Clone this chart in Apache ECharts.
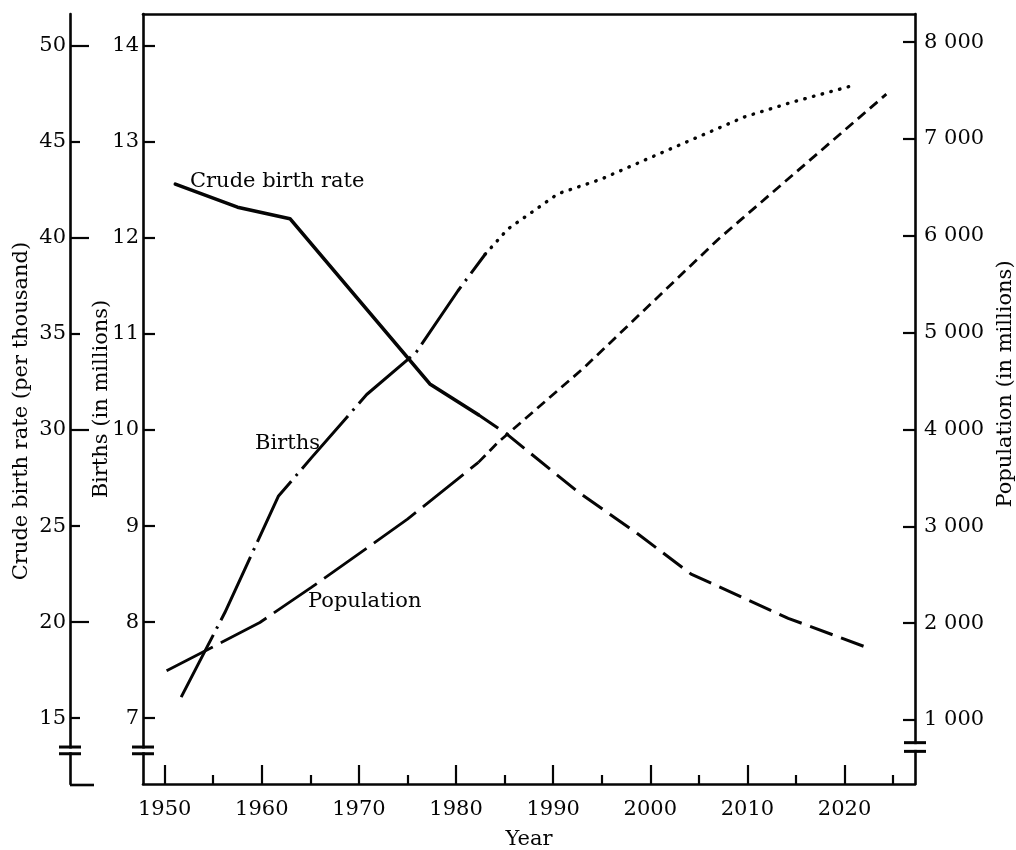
<!DOCTYPE html>
<html>
<head>
<meta charset="utf-8">
<script src="https://cdn.jsdelivr.net/npm/echarts@6/dist/echarts.min.js"></script>
<style>
html,body{margin:0;padding:0;background:#fff;}
#chart{width:1016px;height:850px;}
</style>
</head>
<body>
<div id="chart"></div>
<script>
// ---- tick labels ----
const yearTicks = [1950, 1960, 1970, 1980, 1990, 2000, 2010, 2020];
const yearMinorTicks = [1955, 1965, 1975, 1985, 1995, 2005, 2015, 2025];
const cbrTicks = [15, 20, 25, 30, 35, 40, 45, 50];
const cbrLongTicks = [20, 30, 40, 50];
const cbrShortTicks = [15, 25, 35, 45];
const birthTicks = [7, 8, 9, 10, 11, 12, 13, 14];
const popTicks = [1000, 2000, 3000, 4000, 5000, 6000, 7000, 8000];

// ---- series values ----
// Crude birth rate (per thousand)
const cbrObsYears = [1951.1, 1957.5, 1962.9, 1977.3, 1982.3];
const cbrObsValues = [42.8, 41.6, 41.0, 32.4, 30.8];
const cbrProjYears = [1982.3, 1985.2, 1992.5, 1998.7, 2004.2, 2014.2, 2022.2];
const cbrProjValues = [30.8, 29.8, 26.8, 24.6, 22.5, 20.2, 18.7];

// Births (in millions)
const birthObsYears = [1951.7, 1956.2, 1961.7, 1965.1, 1970.8, 1975.9, 1980.2, 1983.0];
const birthObsValues = [7.22, 8.10, 9.31, 9.71, 10.37, 10.81, 11.45, 11.83];
const birthProjYears = [1983.0, 1985.3, 1988.4, 1990.5, 1994.9, 2000.1, 2004.9, 2009.7, 2014.5, 2021.0];
const birthProjValues = [11.83, 12.09, 12.31, 12.46, 12.61, 12.84, 13.05, 13.26, 13.41, 13.59];

// Population (in millions)
const popObsYears = [1950.2, 1954.5, 1959.8, 1965.1, 1975.0, 1982.3];
const popObsValues = [1507, 1730, 2006, 2368, 3073, 3660];
const popProjYears = [1982.3, 1984.3, 1993.2, 2007.0, 2024.3];
const popProjValues = [3660, 3865, 4640, 5965, 7463];

// axis break values
const birthsBreak = [6.70, 6.63];
const popBreak = [765, 675];

// ---- layout / style constants ----
const FONT = 'DejaVu Serif';
const INK = '#050505';
const X_MIN = 1947.77, X_MAX = 2027.25;
const B_MIN = 6.315, B_MAX = 14.331;
const C_MIN = 15 + 5 * (B_MIN - 7), C_MAX = 15 + 5 * (B_MAX - 7);
const P_MIN = 338, P_MAX = 8291;
const GRID = {left: 143, right: 101, top: 14, bottom: 66};
const CBR_OFFSET = 73;

function pairs(xs, ys) { return xs.map((x, i) => [x, ys[i]]); }
function popFmt(v) { return String(v).replace(/\B(?=(\d{3})+(?!\d))/g, ' '); }

const labelStyle = {color: INK, fontFamily: FONT, fontSize: 21};
const nameStyle = {color: INK, fontFamily: FONT, fontSize: 21};
const axisLineStyle = {color: INK, width: 2.6};
const tickStyle = {color: INK, width: 2.2};

const chart = echarts.init(document.getElementById('chart'), null, {renderer: 'canvas'});

const option = {
  animation: false,
  backgroundColor: '#fff',
  grid: Object.assign({outerBoundsMode: 'none', containLabel: false}, GRID),
  xAxis: [
    {
      type: 'value', min: X_MIN, max: X_MAX, position: 'bottom',
      name: 'Year', nameLocation: 'middle', nameGap: 45,
      nameTextStyle: nameStyle,
      axisLine: {show: true, lineStyle: axisLineStyle},
      axisTick: {show: true, inside: true, length: 19, customValues: yearTicks, lineStyle: tickStyle},
      axisLabel: Object.assign({show: true, margin: 15, customValues: yearTicks, formatter: v => String(v)}, labelStyle),
      splitLine: {show: false}
    },
    {
      type: 'value', min: X_MIN, max: X_MAX, position: 'bottom',
      axisLine: {show: false},
      axisTick: {show: true, inside: true, length: 9, customValues: yearMinorTicks, lineStyle: tickStyle},
      axisLabel: {show: false},
      splitLine: {show: false}
    },
    {
      type: 'value', min: X_MIN, max: X_MAX, position: 'top',
      axisLine: {show: true, lineStyle: axisLineStyle},
      axisTick: {show: false}, axisLabel: {show: false}, splitLine: {show: false}
    }
  ],
  yAxis: [
    {
      type: 'value', min: B_MIN, max: B_MAX, position: 'left', offset: 0,
      name: 'Births (in millions)', nameLocation: 'middle', nameGap: 31, nameMoveOverlap: false,
      nameTextStyle: nameStyle,
      axisLine: {show: true, lineStyle: axisLineStyle},
      axisTick: {show: true, inside: true, length: 12, customValues: birthTicks, lineStyle: tickStyle},
      axisLabel: Object.assign({show: true, margin: 4, customValues: birthTicks, formatter: v => String(v)}, labelStyle),
      splitLine: {show: false}
    },
    {
      type: 'value', min: C_MIN, max: C_MAX, position: 'left', offset: CBR_OFFSET,
      name: 'Crude birth rate (per thousand)', nameLocation: 'middle', nameGap: 38, nameMoveOverlap: false,
      nameTextStyle: Object.assign({padding: [0, 24, 0, 0]}, nameStyle),
      axisLine: {show: true, lineStyle: axisLineStyle},
      axisTick: {show: true, inside: true, length: 19, customValues: cbrLongTicks, lineStyle: tickStyle},
      axisLabel: Object.assign({show: true, margin: 4, customValues: cbrTicks, formatter: v => String(v)}, labelStyle),
      splitLine: {show: false}
    },
    {
      type: 'value', min: C_MIN, max: C_MAX, position: 'left', offset: CBR_OFFSET,
      axisLine: {show: false},
      axisTick: {show: true, inside: true, length: 10, customValues: cbrShortTicks, lineStyle: tickStyle},
      axisLabel: {show: false}, splitLine: {show: false}
    },
    {
      type: 'value', min: P_MIN, max: P_MAX, position: 'right', offset: 0,
      name: 'Population (in millions)', nameLocation: 'middle', nameGap: 80, nameMoveOverlap: false,
      nameTextStyle: Object.assign({padding: [0, 0, 0, 30]}, nameStyle),
      axisLine: {show: true, lineStyle: axisLineStyle},
      axisTick: {show: true, inside: true, length: 12, customValues: popTicks, lineStyle: tickStyle},
      axisLabel: Object.assign({show: true, margin: 9, customValues: popTicks, formatter: popFmt}, labelStyle),
      splitLine: {show: false}
    }
  ],
  series: [
    {name: 'Crude birth rate', type: 'line', xAxisIndex: 0, yAxisIndex: 1, symbol: 'none',
     data: pairs(cbrObsYears, cbrObsValues),
     lineStyle: {color: INK, width: 3.6, type: 'solid', cap: 'round', join: 'round'}},
    {name: 'Crude birth rate (projected)', type: 'line', xAxisIndex: 0, yAxisIndex: 1, symbol: 'none',
     data: pairs(cbrProjYears, cbrProjValues),
     lineStyle: {color: INK, width: 3, type: [24, 9]}},
    {name: 'Births', type: 'line', xAxisIndex: 0, yAxisIndex: 0, symbol: 'none',
     data: pairs(birthObsYears, birthObsValues),
     lineStyle: {color: INK, width: 3, type: [70, 7, 2.5, 7]}},
    {name: 'Births (projected)', type: 'line', xAxisIndex: 0, yAxisIndex: 0, symbol: 'none',
     data: pairs(birthProjYears, birthProjValues),
     lineStyle: {color: INK, width: 3.4, type: [0.5, 8.5], cap: 'round'}},
    {name: 'Population', type: 'line', xAxisIndex: 0, yAxisIndex: 3, symbol: 'none',
     data: pairs(popObsYears, popObsValues),
     lineStyle: {color: INK, width: 2.8, type: [52, 9]}},
    {name: 'Population (projected)', type: 'line', xAxisIndex: 0, yAxisIndex: 3, symbol: 'none',
     data: pairs(popProjYears, popProjValues),
     lineStyle: {color: INK, width: 2.8, type: [10, 6]}}
  ]
};
chart.setOption(option);

// ---- decorations: in-plot labels, axis breaks, outer axis foot ----
const xL = chart.convertToPixel({xAxisIndex: 0}, X_MIN);
const xR = chart.convertToPixel({xAxisIndex: 0}, X_MAX);
const xC = xL - CBR_OFFSET;
const yBottom = chart.convertToPixel({yAxisIndex: 0}, B_MIN);
const yb1 = chart.convertToPixel({yAxisIndex: 0}, birthsBreak[0]);
const yb2 = chart.convertToPixel({yAxisIndex: 0}, birthsBreak[1]);
const yp1 = chart.convertToPixel({yAxisIndex: 3}, popBreak[0]);
const yp2 = chart.convertToPixel({yAxisIndex: 3}, popBreak[1]);

function breakMark(x, y1, y2) {
  return [
    {type: 'rect', shape: {x: x - 4, y: y1 + 1.5, width: 8, height: y2 - y1 - 3}, style: {fill: '#fff'}, z: 100},
    {type: 'line', shape: {x1: x - 11, y1: y1, x2: x + 11, y2: y1}, style: {stroke: INK, lineWidth: 3}, z: 101},
    {type: 'line', shape: {x1: x - 11, y1: y2, x2: x + 11, y2: y2}, style: {stroke: INK, lineWidth: 3}, z: 101}
  ];
}

const textStyle = {fill: INK, fontFamily: FONT, fontSize: 21, verticalAlign: 'middle', align: 'left'};
const graphics = [].concat(
  breakMark(xC, yb1, yb2),
  breakMark(xL, yb1, yb2),
  breakMark(xR, yp1, yp2),
  [
    {type: 'line', shape: {x1: xC, y1: yBottom + 1, x2: xC + 24, y2: yBottom + 1}, style: {stroke: INK, lineWidth: 2.6}, z: 101},
    {type: 'text', x: 190, y: 182, style: Object.assign({text: 'Crude birth rate'}, textStyle), z: 102},
    {type: 'text', x: 255, y: 444, style: Object.assign({text: 'Births'}, textStyle), z: 102},
    {type: 'text', x: 308, y: 602, style: Object.assign({text: 'Population'}, textStyle), z: 102}
  ]
);
chart.setOption({graphic: graphics});
</script>
</body>
</html>
